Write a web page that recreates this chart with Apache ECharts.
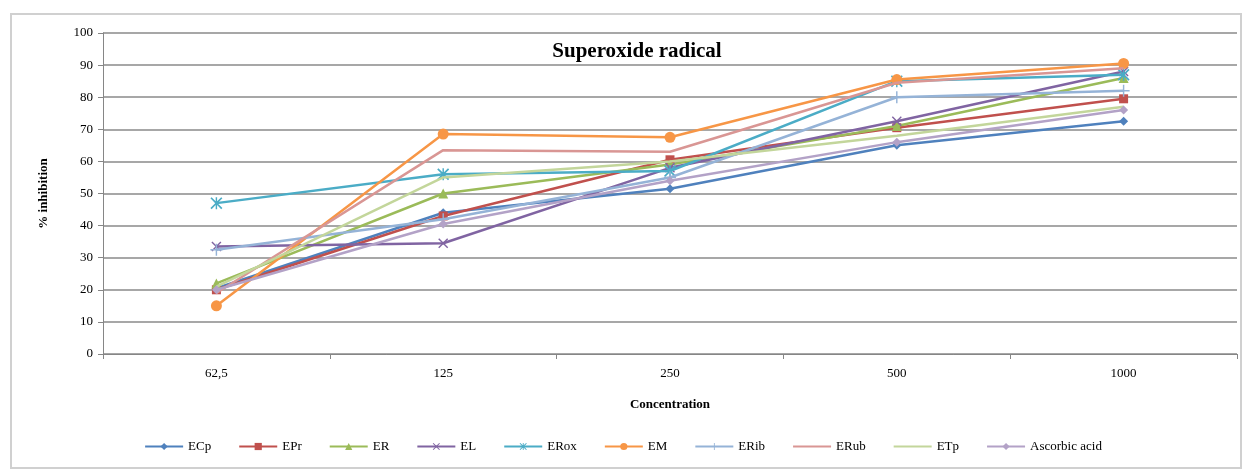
<!DOCTYPE html>
<html>
<head>
<meta charset="utf-8">
<script src="https://cdn.jsdelivr.net/npm/echarts@6/dist/echarts.min.js"></script>
<style>
html,body{margin:0;padding:0;background:#fff;}
#frame{position:absolute;left:10px;top:13px;width:1232px;height:456px;border:2px solid #d0d0d0;box-sizing:border-box;}
#chart{position:absolute;left:0;top:0;width:1246px;height:474px;}
</style>
</head>
<body>
<div id="frame"></div>
<div id="chart"></div>
<script>
const categories = ['62,5', '125', '250', '500', '1000'];
const seriesNames = ['ECp', 'EPr', 'ER', 'EL', 'ERox', 'EM', 'ERib', 'ERub', 'ETp', 'Ascorbic acid'];
const ECp = [20.5, 44, 51.5, 65, 72.5];
const EPr = [20, 43, 60.5, 70.5, 79.5];
const ER = [22, 50, 59, 71, 86];
const EL = [33.5, 34.5, 58, 72.5, 88];
const ERox = [47, 56, 57, 85, 87];
const EM = [15, 68.5, 67.5, 85.5, 90.5];
const ERib = [32.5, 42, 55, 80, 82];
const ERub = [19, 63.5, 63, 84.5, 89];
const ETp = [21, 55, 60, 68, 77];
const Ascorbic = [20, 40.5, 54, 66, 76];
const yTicks = [0, 10, 20, 30, 40, 50, 60, 70, 80, 90, 100];

const colors = ['#4F81BD', '#C0504D', '#9BBB59', '#8064A2', '#4BACC6', '#F79646', '#95B3D7', '#D99694', '#C3D69B', '#B3A2C7'];
const X = 'path://M0,1L1,0L5,4L9,0L10,1L6,5L10,9L9,10L5,6L1,10L0,9L4,5Z';
const STAR = 'path://M0,1L1,0L5,4L9,0L10,1L6,5L10,9L9,10L5,6L1,10L0,9L4,5Z M4.4,0L5.6,0L5.6,10L4.4,10Z';
const PLUS = 'path://M4.4,0L5.6,0L5.6,10L4.4,10Z M0,4.4L10,4.4L10,5.6L0,5.6Z';
const symbols = ['diamond', 'rect', 'triangle', X, STAR, 'circle', PLUS, 'circle', 'circle', 'diamond'];
const sizes = [9, 9, 10, 10, 12, 11, 12, 1, 1, 9];
const hideSym = [false, false, false, false, false, false, false, true, true, false];
const dataArr = [ECp, EPr, ER, EL, ERox, EM, ERib, ERub, ETp, Ascorbic];

const font = 'Liberation Serif';
const chart = echarts.init(document.getElementById('chart'));
chart.setOption({
  animation: false,
  color: colors,
  title: {
    text: 'Superoxide radical',
    left: 632, textAlign: 'center', top: 36,
    textStyle: {fontFamily: font, fontSize: 21, fontWeight: 'bold', color: '#000'}
  },
  grid: {left: 103, right: 9, top: 33, bottom: 120},
  legend: {
    bottom: 16, left: 'center',
    itemWidth: 38, itemHeight: 9, itemGap: 27,
    textStyle: {fontFamily: font, fontSize: 13, color: '#000'},
    data: seriesNames
  },
  xAxis: {
    type: 'category', data: categories, boundaryGap: true,
    name: 'Concentration', nameLocation: 'middle', nameGap: 44,
    nameTextStyle: {fontFamily: font, fontSize: 13, fontWeight: 'bold', color: '#000'},
    axisLine: {lineStyle: {color: '#868686', width: 1}},
    axisTick: {show: true, length: 5, lineStyle: {color: '#868686'}},
    axisLabel: {fontFamily: font, fontSize: 13, color: '#000', margin: 13}
  },
  yAxis: {
    type: 'value', min: yTicks[0], max: yTicks[yTicks.length - 1], interval: 10,
    name: '% inhibition', nameLocation: 'middle', nameGap: 53,
    nameTextStyle: {fontFamily: font, fontSize: 13, fontWeight: 'bold', color: '#000'},
    axisLine: {show: true, lineStyle: {color: '#868686', width: 1}},
    axisTick: {show: true, length: 5, lineStyle: {color: '#868686'}},
    axisLabel: {fontFamily: font, fontSize: 13, color: '#000', margin: 10},
    splitLine: {lineStyle: {color: '#8a8a8a', width: 1.5}}
  },
  series: seriesNames.map((n, i) => ({
    name: n, type: 'line', data: dataArr[i],
    symbol: symbols[i], symbolSize: sizes[i], showSymbol: true,
    lineStyle: {width: 2.5, color: colors[i], opacity: 1},
    itemStyle: {color: colors[i], opacity: hideSym[i] ? 0 : 1},
    z: 2 + i
  }))
});
</script>
</body>
</html>
